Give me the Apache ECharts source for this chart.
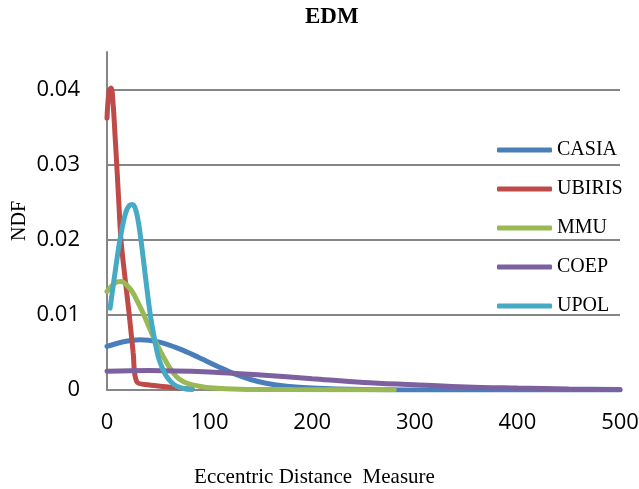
<!DOCTYPE html>
<html>
<head>
<meta charset="utf-8">
<script src="https://cdn.jsdelivr.net/npm/echarts@6/dist/echarts.min.js"></script>
<style>html,body{margin:0;padding:0;background:#fff;}#c{width:639px;height:489px;}</style>
</head>
<body>
<div id="c"></div>
<script>
const seriesNames = ['CASIA', 'UBIRIS', 'MMU', 'COEP', 'UPOL'];
const casia = [[0,0.0058],[15,0.0064],[32,0.0067],[50,0.0064],[70,0.0055],[90,0.0043],[110,0.0030],[125,0.0021],[140,0.0014],[155,0.0009],[175,0.0005],[200,0.00025],[250,0.00005],[300,0.00001],[400,0],[500,0]];
const ubiris = [[0,0.0362],[2,0.0398],[4,0.0402],[6,0.0380],[8,0.0335],[9.5,0.0300],[11.5,0.0250],[13.6,0.0200],[17.5,0.0150],[21.7,0.0100],[25.5,0.0050],[29,0.0011],[40,0.0007],[60,0.0004],[83,0.0001]];
const mmu = [[0,0.0131],[5,0.0139],[10,0.0144],[14,0.01445],[19,0.0140],[25,0.0130],[30,0.0117],[35,0.0103],[40,0.0087],[45,0.0071],[50,0.0057],[55,0.0044],[60,0.0032],[65,0.0022],[70,0.0015],[78,0.0009],[90,0.0005],[100,0.0003],[130,0.0001],[180,0.00005],[280,0.00003]];
const coep = [[0,0.0025],[40,0.0026],[100,0.0024],[150,0.0020],[200,0.0015],[250,0.0010],[300,0.0007],[350,0.0004],[400,0.00025],[450,0.00013],[500,0.00007]];
const upol = [[3,0.0109],[8,0.0158],[13,0.0203],[18,0.0235],[22,0.0246],[25,0.0247],[28,0.0240],[31,0.0220],[34,0.0190],[38,0.0145],[42,0.0102],[46,0.0070],[50,0.0044],[54,0.0029],[58,0.0018],[63,0.0010],[68,0.0005],[75,0.0002],[83,0.0001]];
const seriesData = [casia, ubiris, mmu, coep, upol];
const colors = ['#4A7EBB', '#BE4B48', '#98B954', '#7D60A0', '#46AAC5'];

const chart = echarts.init(document.getElementById('c'));
chart.setOption({
  animation: false,
  backgroundColor: '#fff',
  title: {
    text: 'EDM', left: 300, top: 1,
    textStyle: { fontFamily: 'Liberation Serif', fontWeight: 'bold', fontSize: 23, color: '#000' }
  },
  legend: {
    orient: 'vertical', left: 492, top: 135,
    data: seriesNames,
    icon: 'roundRect', itemWidth: 55, itemHeight: 5, itemGap: 19,
    textStyle: { fontFamily: 'Liberation Serif', fontSize: 20, color: '#000', lineHeight: 20 }
  },
  grid: { left: 107, right: 19, top: 52, bottom: 99, containLabel: false, outerBoundsMode: 'none' },
  xAxis: {
    type: 'value', min: 0, max: 500, interval: 100,
    name: 'Eccentric Distance  Measure', nameLocation: 'middle', nameGap: 77, nameMoveOverlap: false,
    nameTextStyle: { fontFamily: 'Liberation Serif', fontSize: 21, color: '#000', padding: [0, 98, 0, 0] },
    axisLine: { show: true, lineStyle: { color: '#868686', width: 2 } },
    axisTick: { show: false },
    splitLine: { show: false },
    axisLabel: { fontFamily: 'Open Sans', fontSize: 22, color: '#000', margin: 22, hideOverlap: false }
  },
  yAxis: {
    type: 'value', min: 0, max: 0.045, interval: 0.01,
    name: 'NDF', nameLocation: 'middle', nameGap: 77, nameRotate: 90, nameMoveOverlap: false,
    nameTextStyle: { fontFamily: 'Liberation Serif', fontSize: 20, color: '#000' },
    axisLine: { show: true, lineStyle: { color: '#868686', width: 2 } },
    axisTick: { show: false },
    splitLine: { show: true, lineStyle: { color: ['#868686','#868686','#868686','#868686','#868686','rgba(0,0,0,0)'], width: 2 } },
    axisLabel: { fontFamily: 'Open Sans', fontSize: 22, color: '#000', margin: 27, showMaxLabel: false }
  },
  series: seriesNames.map((n, i) => ({
    name: n, type: 'line', data: seriesData[i], smooth: 0.35,
    showSymbol: false, symbol: 'none',
    lineStyle: { color: colors[i], width: 5, cap: 'round' },
    itemStyle: { color: colors[i] }
  }))
});
</script>
</body>
</html>
